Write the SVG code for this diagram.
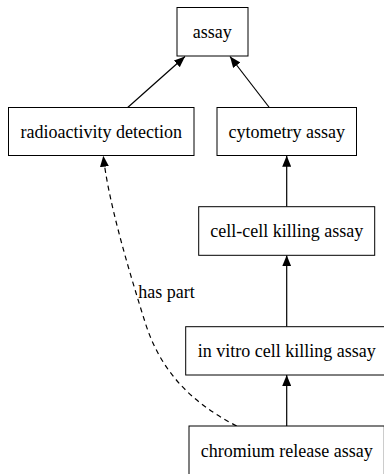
<svg xmlns="http://www.w3.org/2000/svg" width="384" height="474" viewBox="0 0 384 474">
<style>
.box{fill:#fff;stroke:#000;stroke-width:1}
.lbl{font-family:"Liberation Serif","Times New Roman",serif;font-size:18px;fill:#000;text-anchor:middle}
.elbl{font-family:"Liberation Serif","Times New Roman",serif;font-size:18px;fill:#000}
.edge{fill:none;stroke:#000;stroke-width:1.2}
.dash{stroke-dasharray:5,4}
</style>
<defs>
<marker id="arr" viewBox="0 0 11 9" refX="11" refY="4.5" markerWidth="11" markerHeight="9" markerUnits="userSpaceOnUse" orient="auto">
<path d="M0,0 L11,4.5 L0,9 z" fill="#000" stroke="none"/>
</marker>
</defs>
<rect width="384" height="474" fill="#fff"/>
<g id="edges">
<path class="edge" d="M127.7,107.5 L185,56.5" marker-end="url(#arr)"/>
<path class="edge" d="M269.3,107.5 L230,56.5" marker-end="url(#arr)"/>
<path class="edge" d="M286.7,206.7 L286.7,155.7" marker-end="url(#arr)"/>
<path class="edge" d="M286.7,326.7 L286.7,255.3" marker-end="url(#arr)"/>
<path class="edge" d="M286.7,426 L286.7,375" marker-end="url(#arr)"/>
<path class="edge dash" d="M236.7,426 C190,402 160,370 145,322 C128,268 108,200 103.3,155.7" marker-end="url(#arr)"/>
<text class="elbl" x="138.3" y="297.5">has part</text>
</g>
<g id="n_assay"><rect class="box" x="177" y="7.5" width="71" height="48.5"/><text class="lbl" x="212.3" y="38">assay</text></g>
<g id="n_radio"><rect class="box" x="8.5" y="107.5" width="185.5" height="48"/><text class="lbl" x="101.3" y="137.5">radioactivity detection</text></g>
<g id="n_cyto"><rect class="box" x="217" y="107.5" width="139.5" height="48"/><text class="lbl" x="286.8" y="137.5">cytometry assay</text></g>
<g id="n_cellcell"><rect class="box" x="198.7" y="206.7" width="176" height="48.6"/><text class="lbl" x="286.7" y="237">cell-cell killing assay</text></g>
<g id="n_invitro"><rect class="box" x="185.7" y="326.7" width="202" height="48.3"/><text class="lbl" x="286.7" y="357">in vitro cell killing assay</text></g>
<g id="n_chromium"><rect class="box" x="189" y="426" width="195.3" height="48.5"/><text class="lbl" x="286.7" y="456.5">chromium release assay</text></g>
</svg>
